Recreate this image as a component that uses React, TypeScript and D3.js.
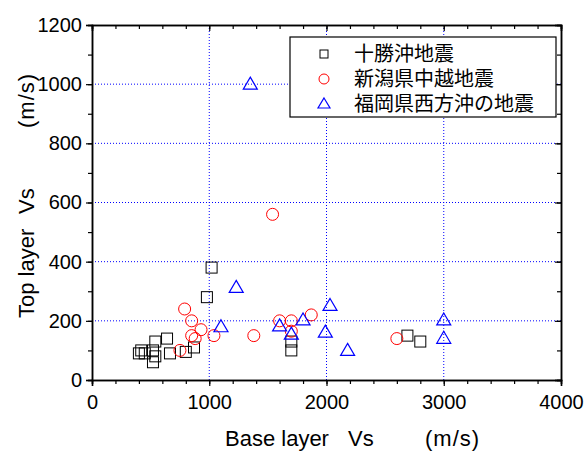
import React, { useEffect, useRef } from "react";
import * as d3 from "d3";

// 十勝沖地震
const tokachiX = [400, 420, 450, 520, 540, 520, 540, 640, 665, 800, 870, 980, 1020, 1700, 1700, 2690, 2800];
const tokachiY = [90, 100, 90, 100, 80, 60, 130, 140, 90, 95, 110, 280, 380, 130, 100, 150, 130];
// 新潟県中越地震
const niigataX = [750, 790, 850, 930, 850, 880, 1040, 1380, 1540, 1600, 1700, 1700, 1870, 2600];
const niigataY = [100, 240, 200, 170, 150, 140, 150, 150, 560, 200, 200, 165, 220, 140];
// 福岡県西方沖の地震
const fukuokaX = [1100, 1230, 1350, 1600, 1700, 1800, 1990, 2030, 2180, 3000, 3000];
const fukuokaY = [180, 313, 1000, 183, 155, 203, 162, 252, 100, 203, 141];

const legendLabels = ["十勝沖地震", "新潟県中越地震", "福岡県西方沖の地震"];
const xTicks = [0, 1000, 2000, 3000, 4000];
const yTicks = [0, 200, 400, 600, 800, 1000, 1200];

const W = 584;
const H = 451;
const margin = { top: 25, right: 23, bottom: 71, left: 92 };

const drawMarker = (g, kind, x, y) => {
  if (kind === 0) {
    g.append("rect")
      .attr("x", x - 5.5)
      .attr("y", y - 5.5)
      .attr("width", 11)
      .attr("height", 11)
      .attr("fill", "none")
      .attr("stroke", "#000")
      .attr("stroke-width", 1);
  } else if (kind === 1) {
    g.append("circle")
      .attr("cx", x)
      .attr("cy", y)
      .attr("r", 6)
      .attr("fill", "none")
      .attr("stroke", "#ff0000")
      .attr("stroke-width", 1);
  } else {
    g.append("path")
      .attr("d", `M${x},${y - 7}L${x + 7},${y + 5}L${x - 7},${y + 5}Z`)
      .attr("fill", "none")
      .attr("stroke", "#0000ff")
      .attr("stroke-width", 1.2);
  }
};

const draw = (node) => {
  const width = W - margin.left - margin.right;
  const height = H - margin.top - margin.bottom;
  const x = d3.scaleLinear().domain([0, 4000]).range([0, width]);
  const y = d3.scaleLinear().domain([0, 1200]).range([height, 0]);
  const fmt = d3.format("d");

  const svg = d3.select(node);
  svg.selectAll("*").remove();
  const g = svg
    .append("g")
    .attr("transform", "translate(" + margin.left + "," + margin.top + ")");

  // grid
  g.selectAll(".gx")
    .data([1000, 2000, 3000])
    .enter()
    .append("line")
    .attr("x1", (d) => x(d))
    .attr("x2", (d) => x(d))
    .attr("y1", 0)
    .attr("y2", height)
    .attr("stroke", "#0000ff")
    .attr("stroke-width", 1)
    .attr("stroke-dasharray", "1,2");
  g.selectAll(".gy")
    .data([200, 400, 600, 800, 1000])
    .enter()
    .append("line")
    .attr("x1", 0)
    .attr("x2", width)
    .attr("y1", (d) => y(d))
    .attr("y2", (d) => y(d))
    .attr("stroke", "#0000ff")
    .attr("stroke-width", 1)
    .attr("stroke-dasharray", "1,2");

  const font = "'Liberation Sans', Arial, sans-serif";

  // axes
  const bottom = g
    .append("g")
    .attr("transform", "translate(0," + height + ")")
    .call(d3.axisBottom(x).tickValues(xTicks).tickFormat(fmt).tickSize(6).tickPadding(9));
  bottom
    .append("g")
    .call(d3.axisBottom(x).ticks(16).tickSize(4).tickFormat(() => ""));
  const left = g
    .append("g")
    .call(d3.axisLeft(y).tickValues(yTicks).tickFormat(fmt).tickSize(6).tickPadding(4));
  left
    .append("g")
    .call(d3.axisLeft(y).ticks(12).tickSize(4).tickFormat(() => ""));
  const top = g
    .append("g")
    .call(d3.axisBottom(x).ticks(16).tickSize(4).tickFormat(() => ""));
  top.append("g").call(d3.axisBottom(x).tickValues(xTicks).tickSize(6).tickFormat(() => ""));
  const right = g
    .append("g")
    .attr("transform", "translate(" + width + ",0)")
    .call(d3.axisLeft(y).ticks(12).tickSize(4).tickFormat(() => ""));
  right.append("g").call(d3.axisLeft(y).tickValues(yTicks).tickSize(6).tickFormat(() => ""));

  g.selectAll(".domain").attr("stroke", "#000").attr("stroke-width", 1.5);
  g.selectAll(".tick line").attr("stroke", "#000").attr("stroke-width", 1.2);
  g.selectAll(".tick text")
    .attr("font-family", font)
    .attr("font-size", 20)
    .attr("fill", "#000");

  // data
  const series = [
    [tokachiX, tokachiY],
    [niigataX, niigataY],
    [fukuokaX, fukuokaY]
  ];
  series.forEach(([xs, ys], k) => {
    xs.forEach((v, i) => drawMarker(g, k, x(v), y(ys[i])));
  });

  // legend
  const leg = g.append("g").attr("transform", "translate(198,12)");
  leg
    .append("rect")
    .attr("width", 266)
    .attr("height", 80)
    .attr("fill", "#fff")
    .attr("stroke", "#000")
    .attr("stroke-width", 1.2);
  legendLabels.forEach((label, i) => {
    const cy = 17 + i * 25;
    const mg = leg.append("g");
    if (i === 0) {
      mg.append("rect")
        .attr("x", 30)
        .attr("y", cy - 4)
        .attr("width", 8)
        .attr("height", 8)
        .attr("fill", "none")
        .attr("stroke", "#000");
    } else if (i === 1) {
      mg.append("circle")
        .attr("cx", 34)
        .attr("cy", cy)
        .attr("r", 5)
        .attr("fill", "none")
        .attr("stroke", "#ff0000");
    } else {
      mg.append("path")
        .attr("d", `M34,${cy - 6}L40,${cy + 4}L28,${cy + 4}Z`)
        .attr("fill", "none")
        .attr("stroke", "#0000ff")
        .attr("stroke-width", 1.2);
    }
    leg
      .append("text")
      .attr("x", 64)
      .attr("y", cy + 7)
      .attr("font-family", "'Noto Sans CJK JP', sans-serif")
      .attr("font-size", 20)
      .attr("fill", "#000")
      .text(label);
  });

  // axis titles
  const xt = svg
    .append("text")
    .attr("y", 446)
    .attr("font-family", font)
    .attr("font-size", 22)
    .attr("fill", "#000");
  xt.append("tspan").attr("x", 225).text("Base layer");
  xt.append("tspan").attr("x", 348).text("Vs");
  xt.append("tspan").attr("x", 425).attr("letter-spacing", 1).text("(m/s)");

  const yt = svg
    .append("text")
    .attr("transform", "translate(34,0) rotate(-90)")
    .attr("font-family", font)
    .attr("font-size", 22)
    .attr("fill", "#000");
  yt.append("tspan").attr("x", -318).text("Top layer");
  yt.append("tspan").attr("x", -214).text("Vs");
  yt.append("tspan").attr("x", -128).attr("letter-spacing", 1).text("(m/s)");
};

const App = () => {
  const ref = useRef(null);
  useEffect(() => {
    draw(ref.current);
  }, []);
  return (
    <svg
      ref={ref}
      width={W}
      height={H}
      style={{ display: "block", position: "absolute", left: 0, top: 0, background: "#fff" }}
    />
  );
};

export default App;
